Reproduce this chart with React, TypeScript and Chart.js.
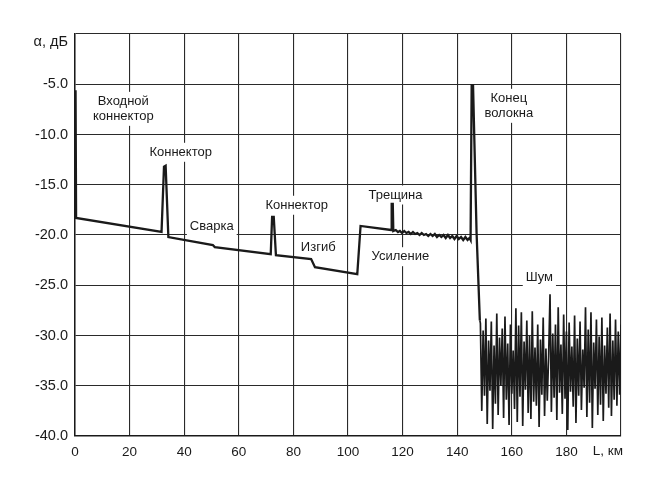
import React, { useEffect, useRef } from "react";
import { Chart, registerables } from "chart.js";

Chart.register(...registerables);

// OTDR reflectogram: distance (km) vs attenuation (dB)
const traceKm = [
  0.2, 0.4, 31.7, 32.6, 33.2, 34.2, 50.5, 51.2, 71.7, 72.2, 72.8, 73.6, 86.5, 87.9,
  103.4, 104.6, 115.8, 116.0, 116.4, 116.6, 117.5, 118.3, 119.0, 119.8, 120.6, 121.4,
  122.2, 123.0, 123.8, 124.6, 125.4, 126.2, 127.0, 127.8, 128.6, 129.4, 130.2, 131.0,
  131.8, 132.6, 133.4, 134.2, 135.0, 135.8, 136.6, 137.4, 138.2, 139.0, 139.8, 140.6,
  141.4, 142.2, 143.0, 143.8, 144.5, 144.9, 145.3, 145.8, 147.1, 148.3,
];
const traceDb = [
  -5.6, -18.3, -19.7, -13.2, -13.1, -20.2, -21.0, -21.2, -21.9, -18.2, -18.2, -22.0, -22.4, -23.2,
  -23.9, -19.1, -19.5, -16.9, -16.9, -19.6, -19.5, -19.7, -19.6, -19.8, -19.6, -19.8,
  -19.7, -19.9, -19.7, -19.9, -19.8, -20.0, -19.8, -20.0, -19.9, -20.1, -19.9, -20.1,
  -19.9, -20.2, -20.0, -20.2, -20.0, -20.3, -20.0, -20.3, -20.1, -20.4, -20.1, -20.4,
  -20.2, -20.5, -20.2, -20.5, -20.3, -20.5, -5.1, -5.1, -19.8, -28.5,
];

const noiseKm = [
  148.3, 148.5, 149.0, 149.5, 150.0, 150.5, 151.0, 151.5, 152.0, 152.5, 153.0, 153.5, 154.0,
  154.5, 155.0, 155.5, 156.0, 156.5, 157.0, 157.5, 158.0, 158.5, 159.0, 159.5, 160.0,
  160.5, 161.0, 161.5, 162.0, 162.5, 163.0, 163.5, 164.0, 164.5, 165.0, 165.5, 166.0,
  166.5, 167.0, 167.5, 168.0, 168.5, 169.0, 169.5, 170.0, 170.5, 171.0, 171.5, 172.0,
  172.5, 173.0, 173.5, 174.0, 174.5, 175.0, 175.5, 176.0, 176.5, 177.0, 177.5, 178.0,
  178.5, 179.0, 179.5, 180.0, 180.5, 181.0, 181.5, 182.0, 182.5, 183.0, 183.5, 184.0,
  184.5, 185.0, 185.5, 186.0, 186.5, 187.0, 187.5, 188.0, 188.5, 189.0, 189.5, 190.0,
  190.5, 191.0, 191.5, 192.0, 192.5, 193.0, 193.5, 194.0, 194.5, 195.0, 195.5, 196.0,
  196.5, 197.0, 197.5, 198.0, 198.5, 199.0, 199.5, 200.0,
];
const noiseDb = [
  -28.5, -28.8, -37.5, -29.5, -36.0, -28.3, -38.8, -30.5, -35.5, -28.6, -39.3, -31.0, -36.8,
  -27.8, -37.9, -30.2, -35.0, -29.3, -38.2, -28.1, -36.4, -30.8, -38.9, -28.9, -35.8,
  -31.5, -37.3, -27.3, -38.6, -29.0, -36.1, -27.7, -39.0, -30.6, -35.4, -28.5, -37.7,
  -30.0, -38.3, -27.6, -36.6, -31.2, -37.0, -28.9, -39.1, -30.4, -35.9, -28.2, -38.0,
  -31.3, -36.5, -32.0, -25.9, -37.6, -29.8, -36.2, -28.9, -38.4, -27.2, -35.7, -30.9,
  -37.8, -27.9, -36.3, -29.6, -39.4, -28.7, -35.6, -31.1, -37.1, -28.0, -38.7, -30.3,
  -36.0, -28.6, -37.4, -31.4, -35.2, -27.2, -38.1, -29.4, -36.7, -27.7, -39.2, -30.7,
  -35.3, -28.4, -37.9, -30.1, -36.9, -28.2, -38.5, -31.0, -35.8, -29.2, -37.2, -27.8,
  -38.0, -30.5, -36.4, -28.4, -37.0, -29.6, -35.9, -28.9,
];

// Event annotations (text lines, anchor in km / dB)
const labelLines = [
  ["Входной", "коннектор"],
  ["Коннектор"],
  ["Сварка"],
  ["Коннектор"],
  ["Изгиб"],
  ["Трещина"],
  ["Усиление"],
  ["Конец", "волокна"],
  ["Шум"],
];
const labelKm = [17.7, 38.7, 50.1, 81.2, 89.1, 117.4, 119.2, 158.9, 170.1];
const labelDb = [-6.7, -11.77, -19.1, -17.04, -21.22, -16.02, -22.16, -6.4, -24.2];

const yAxisTitle = "α, дБ";
const xAxisTitle = "L, км";

const FONT = "'Liberation Sans', Arial, Helvetica, sans-serif";
const BG = "#ffffff";
const INK = "#1a1a1a";

export default function App() {
  const ref = useRef<HTMLCanvasElement>(null);

  useEffect(() => {
    const canvas = ref.current;
    if (!canvas) return;

    const bgPlugin = {
      id: "bg",
      beforeDraw(chart: any) {
        const { ctx, width, height } = chart;
        ctx.save();
        ctx.fillStyle = BG;
        ctx.fillRect(0, 0, width, height);
        ctx.restore();
      },
    };

    const labelPlugin = {
      id: "otdrLabels",
      beforeDatasetsDraw(chart: any) {
        const { ctx, chartArea } = chart;
        const x = chart.scales.x;
        const y = chart.scales.y;
        ctx.save();
        ctx.font = `13px ${FONT}`;
        ctx.textAlign = "center";
        ctx.textBaseline = "middle";
        const lineH = 15;
        labelLines.forEach((lines, i) => {
          const cx = x.getPixelForValue(labelKm[i]);
          const cy = y.getPixelForValue(labelDb[i]);
          const w = Math.max(...lines.map((l) => ctx.measureText(l).width));
          const h = lines.length * lineH;
          ctx.fillStyle = BG;
          ctx.fillRect(cx - w / 2 - 3, cy - lineH / 2 - 2, w + 6, h + 4);
          ctx.fillStyle = INK;
          lines.forEach((l, j) => ctx.fillText(l, cx, cy + j * lineH));
        });
        ctx.fillStyle = INK;
        ctx.textAlign = "right";
        ctx.font = `14.5px ${FONT}`;
        ctx.fillText(yAxisTitle, chartArea.left - 7, chartArea.top + 8);
        ctx.font = `13.5px ${FONT}`;
        ctx.fillText(xAxisTitle, chartArea.right + 2, chartArea.bottom + 15);
        ctx.restore();
      },
    };

    const chart = new Chart(canvas, {
      type: "scatter",
      data: {
        datasets: [
          {
            data: traceKm.map((k, i) => ({ x: k, y: traceDb[i] })),
            showLine: true,
            borderColor: INK,
            borderWidth: 2.3,
            pointRadius: 0,
            tension: 0,
          },
          {
            data: noiseKm.map((k, i) => ({ x: k, y: noiseDb[i] })),
            showLine: true,
            borderColor: INK,
            borderWidth: 1.7,
            pointRadius: 0,
            tension: 0,
          },
        ],
      },
      options: {
        responsive: false,
        animation: false,
        layout: { padding: { top: 34, right: 49, left: 0, bottom: 0 } },
        plugins: {
          legend: { display: false },
          tooltip: { enabled: false },
        },
        scales: {
          x: {
            type: "linear",
            min: 0,
            max: 200,
            ticks: {
              stepSize: 20,
              padding: 8,
              maxRotation: 0,
              color: INK,
              font: { family: FONT, size: 13.5 },
              callback: (v: any) => (Number(v) === 200 ? "" : String(v)),
            },
            grid: { color: "#2a2a2a", lineWidth: 1.1, drawTicks: false },
            border: { color: INK, width: 1.5 },
            afterFit: (s: any) => {
              s.height = 43;
            },
          },
          y: {
            type: "linear",
            min: -40,
            max: 0,
            ticks: {
              stepSize: 5,
              padding: 7,
              color: INK,
              font: { family: FONT, size: 14.5 },
              callback: (v: any) => (Number(v) === 0 ? "" : Number(v).toFixed(1)),
            },
            grid: { color: "#2a2a2a", lineWidth: 1.1, drawTicks: false },
            border: { color: INK, width: 1.5 },
            afterFit: (s: any) => {
              s.width = 75;
            },
          },
        },
      },
      plugins: [bgPlugin, labelPlugin],
    } as any);

    return () => chart.destroy();
  }, []);

  return (
    <div style={{ position: "absolute", left: 0, top: 0, width: 670, height: 479, background: BG }}>
      <canvas ref={ref} width={670} height={479} style={{ display: "block" }} />
    </div>
  );
}
